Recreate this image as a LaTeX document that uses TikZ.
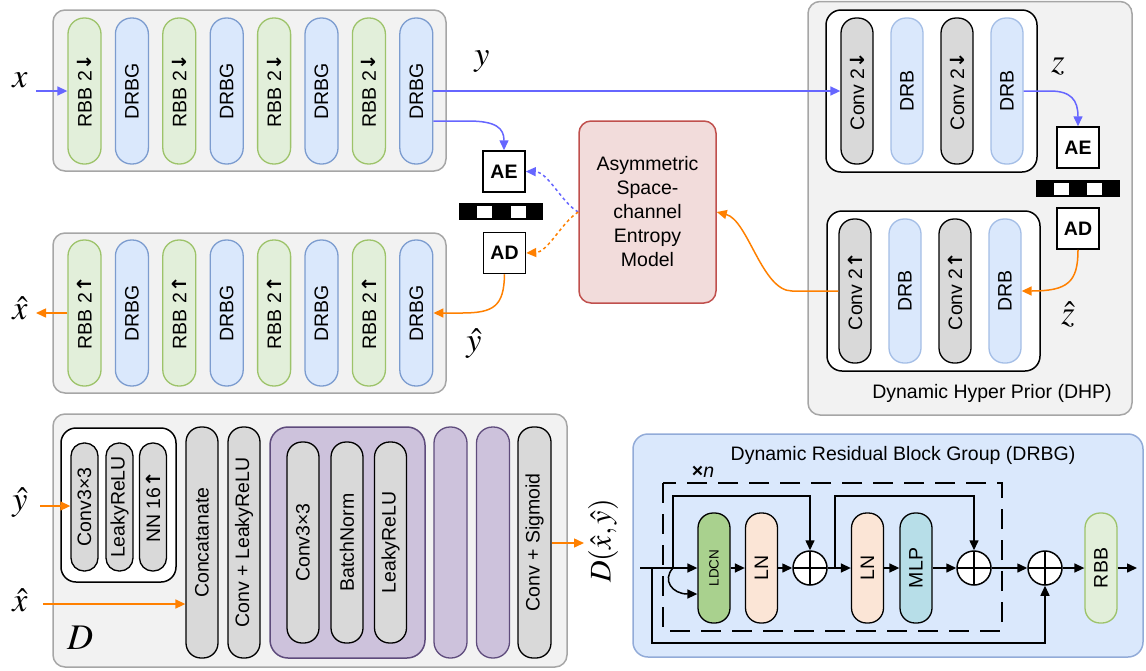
\documentclass[tikz,border=0pt]{standalone}
\usepackage{mathptmx}
\usepackage[no-math]{fontspec}
\setmainfont{Liberation Sans}
\newfontfamily\arrfont{DejaVu Sans}
\usetikzlibrary{arrows.meta,calc}
\definecolor{panelF}{HTML}{F2F2F2}
\definecolor{panelB}{HTML}{A6A6A6}
\definecolor{gF}{HTML}{E2EFDA}
\definecolor{gB}{HTML}{9DC36A}
\definecolor{bF}{HTML}{DAE8FC}
\definecolor{bB}{HTML}{7C9CCF}
\definecolor{bB2}{HTML}{A4BEE6}
\definecolor{grF}{HTML}{D9D9D9}
\definecolor{puF}{HTML}{CDC2DC}
\definecolor{puB}{HTML}{5E4B7C}
\definecolor{entF}{HTML}{F2DCDB}
\definecolor{entB}{HTML}{C0504D}
\definecolor{drF}{HTML}{DAE8FC}
\definecolor{drB}{HTML}{92ABD8}
\definecolor{ldF}{HTML}{A9D18E}
\definecolor{lnF}{HTML}{FBE5D6}
\definecolor{mlF}{HTML}{B7DEE8}
\definecolor{arB}{HTML}{6666FF}
\definecolor{arO}{HTML}{FF8000}
\newcommand{\dnar}{{\arrfont\bfseries ↓}}
\newcommand{\upar}{{\arrfont\bfseries ↑}}
\begin{document}
\begin{tikzpicture}[x=1pt,y=-1pt,
  font=\fontsize{19.5pt}{24pt}\selectfont,
  panel/.style={draw=panelB, fill=panelF, line width=1.5pt, rounded corners=12pt},
  subbox/.style={draw=black, fill=white, line width=1.5pt, rounded corners=15pt},
  pl/.style={rectangle, rotate=90, inner sep=0pt, line width=1.3pt},
  gp/.style={pl, fill=gF, draw=gB, minimum width=146pt, minimum height=33pt, rounded corners=16pt},
  bp/.style={pl, fill=bF, draw=bB, minimum width=146pt, minimum height=33pt, rounded corners=16pt},
  cp/.style={pl, fill=grF, draw=black, rounded corners=15pt},
  dp/.style={pl, fill=bF, draw=bB2, rounded corners=15pt},
  pp/.style={pl, fill=puF, draw=puB, rounded corners=16pt},
  codec/.style={draw=black, fill=white, line width=1.5pt, minimum width=42pt, minimum height=41pt, inner sep=0pt, font=\fontsize{19.5pt}{24pt}\selectfont\bfseries},
  mlab/.style={font=\fontsize{34pt}{34pt}\selectfont},
  aB/.style={draw=arB, line width=1.5pt, -{Triangle[length=10pt,width=9pt]}},
  aO/.style={draw=arO, line width=1.5pt, -{Triangle[length=10pt,width=9pt]}},
  aK/.style={draw=black, line width=1.5pt, -{Triangle[length=10pt,width=9pt]}},
  dotB/.style={aB, dash pattern=on 3pt off 3pt},
  dotO/.style={aO, dash pattern=on 3pt off 3pt},
  plus/.style={circle, draw=black, fill=white, line width=1.5pt, minimum size=34pt, inner sep=0pt,
    path picture={\draw[line width=1.5pt] (path picture bounding box.north) -- (path picture bounding box.south)
      (path picture bounding box.west) -- (path picture bounding box.east);}},
  blk/.style={pl, draw=black, minimum width=110pt, minimum height=32pt, rounded corners=15pt}
]
\useasboundingbox (0,0) rectangle (1146,670);

% ---------------- encoder ----------------
\draw[panel] (53,10) rectangle (446,171);
\node[gp] (e1) at (84.5,91) {RBB 2\dnar};
\node[bp] (e2) at (131.9,91) {DRBG};
\node[gp] (e3) at (179.3,91) {RBB 2\dnar};
\node[bp] (e4) at (226.7,91) {DRBG};
\node[gp] (e5) at (274.1,91) {RBB 2\dnar};
\node[bp] (e6) at (321.5,91) {DRBG};
\node[gp] (e7) at (368.9,91) {RBB 2\dnar};
\node[bp] (e8) at (416.3,91) {DRBG};
\node[mlab] (xin) at (20,80) {$x$};
\coordinate (xs) at (36,91);
\draw[aB] (xs) -- (e1.north);

% ---------------- decoder ----------------
\draw[panel] (53,233) rectangle (446,393);
\node[gp] (d1) at (84.5,313) {RBB 2\upar};
\node[bp] (d2) at (131.9,313) {DRBG};
\node[gp] (d3) at (179.3,313) {RBB 2\upar};
\node[bp] (d4) at (226.7,313) {DRBG};
\node[gp] (d5) at (274.1,313) {RBB 2\upar};
\node[bp] (d6) at (321.5,313) {DRBG};
\node[gp] (d7) at (368.9,313) {RBB 2\upar};
\node[bp] (d8) at (416.3,313) {DRBG};
\node[mlab] (xhat) at (20,308) {$\hat{x}$};
\coordinate (xo) at (36,313);
\draw[aO] (d1.north) -- (xo);

% ---------------- coders & entropy ----------------
\node[codec] (ae1) at (504,171.5) {AE};
\node[codec] (ad1) at (504.5,253) {AD};
\fill[black] (459,203) rectangle (543,220);
\fill[white] (477,205.5) rectangle (492,218);
\fill[white] (511,205.5) rectangle (526,218);
\node[draw=entB, fill=entF, line width=1.5pt, rounded corners=12pt, minimum width=137pt,
      minimum height=182pt, align=center, inner sep=0pt] (ent) at (647.5,212)
      {Asymmetric\\Space-\\channel\\Entropy\\Model};
\node[mlab] (ylab) at (482,62) {$y$};
\node[mlab] (yhlab) at (474,344) {$\hat{y}$};

% ---------------- DHP ----------------
\draw[panel] (808,1.5) rectangle (1132,415);
\draw[subbox] (826,10) rectangle (1037,172);
\node[cp, minimum width=146pt, minimum height=32pt] (h1) at (857,91) {Conv 2\dnar};
\node[dp, minimum width=146pt, minimum height=32pt] (h2) at (907,91) {DRB};
\node[cp, minimum width=146pt, minimum height=32pt] (h3) at (957,91) {Conv 2\dnar};
\node[dp, minimum width=146pt, minimum height=32pt] (h4) at (1007,91) {DRB};
\draw[subbox] (827,211) rectangle (1040,371);
\node[cp, minimum width=144pt, minimum height=32pt] (g1) at (855,291) {Conv 2\upar};
\node[dp, minimum width=144pt, minimum height=32pt] (g2) at (905,291) {DRB};
\node[cp, minimum width=144pt, minimum height=32pt] (g3) at (955,291) {Conv 2\upar};
\node[dp, minimum width=144pt, minimum height=32pt] (g4) at (1005,291) {DRB};
\node[codec] (ae2) at (1078,147.5) {AE};
\node[codec] (ad2) at (1078,228.5) {AD};
\fill[black] (1036,180) rectangle (1120,197);
\fill[white] (1054,182.5) rectangle (1069,195);
\fill[white] (1087,182.5) rectangle (1102,195);
\node[mlab] (zlab) at (1058,66) {$z$};
\node[mlab] (zhlab) at (1068,314) {$\hat{z}$};
\node (dhp) at (992,393) {Dynamic Hyper Prior (DHP)};

% ---------------- main connectors ----------------
\draw[aB] (e8.south) -- (h1.north);
\draw[aB] (e8.south |- 0,121) -- (468,121) .. controls (496,121) and (504,128) .. (ae1.north);
\draw[dotB] (ent.west) .. controls (562,203) and (548,172) .. (ae1.east);
\draw[dotO] (ent.west) .. controls (562,222) and (548,252) .. (ad1.east);
\draw[aO] (ad1.south) .. controls (504,306) and (494,313) .. (462,313) -- (d8.south);
\draw[aB] (h4.south) -- (1050,91) .. controls (1071,91) and (1078,100) .. (ae2.north);
\draw[aO] (ad2.south) .. controls (1078,282) and (1068,291) .. (g4.south);
\draw[aO] (g1.north) -- (792,291) .. controls (762,291) and (748,220) .. (ent.east);

% ---------------- discriminator D ----------------
\draw[panel] (53,414) rectangle (567,667);
\draw[subbox] (61,428) rectangle (176,582);
\node[cp, minimum width=128pt, minimum height=27pt, rounded corners=13pt] (q1) at (84.5,507) {Conv3×3};
\node[cp, minimum width=128pt, minimum height=27pt, rounded corners=13pt] (q2) at (119.5,507) {LeakyReLU};
\node[cp, minimum width=128pt, minimum height=27pt, rounded corners=13pt] (q3) at (153,507) {NN 16\upar};
\node[cp, minimum width=231pt, minimum height=32pt] (cat) at (202,542.5) {Concatanate};
\node[cp, minimum width=231pt, minimum height=32pt] (cl) at (244,542.5) {Conv + LeakyReLU};
\draw[draw=puB, fill=puF, line width=1.5pt, rounded corners=18pt] (270,427) rectangle (425,658);
\node[cp, minimum width=201pt, minimum height=32pt] (r1) at (303,542.5) {Conv3×3};
\node[cp, minimum width=201pt, minimum height=32pt] (r2) at (347,542.5) {BatchNorm};
\node[cp, minimum width=201pt, minimum height=32pt] (r3) at (390.5,542.5) {LeakyReLU};
\node[pp, minimum width=231pt, minimum height=33pt] (pu1) at (450.5,542.5) {};
\node[pp, minimum width=231pt, minimum height=33pt] (pu2) at (493,542.5) {};
\node[cp, minimum width=231pt, minimum height=33pt] (sig) at (534.5,542.5) {Conv + Sigmoid};
\node[mlab] (ydin) at (20,503) {$\hat{y}$};
\node[mlab] (xdin) at (20,600) {$\hat{x}$};
\coordinate (ys) at (40,506);
\coordinate (xs2) at (43,604);
\draw[aO] (ys) -- (q1.north |- ys);
\draw[aO] (xs2) -- (cat.north |- xs2);
\coordinate (dout) at (584,543);
\draw[aO] (sig.south |- dout) -- (dout);
\node[rotate=90, font=\fontsize{30pt}{30pt}\selectfont] (dlab) at (603,541) {$D(\hat{x},\hat{y})$};
\node[font=\fontsize{36pt}{36pt}\selectfont] (dname) at (80,638) {$D$};

% ---------------- DRBG ----------------
\draw[draw=drB, fill=drF, line width=1.5pt, rounded corners=15pt] (633,434) rectangle (1143,657);
\node (drt) at (903,455) {Dynamic Residual Block Group (DRBG)};
\node (xn) at (703,472) {\textbf{×}\textit{n}};
\draw[line width=1.8pt, dash pattern=on 20pt off 11pt] (663,483) rectangle (1002,631);
\node[blk, fill=ldF, font=\fontsize{13.5pt}{14pt}\selectfont] (ldcn) at (714,568) {LDCN};
\node[blk, fill=lnF] (ln1) at (761.5,568) {LN};
\node[plus] (p1) at (810,568) {};
\node[blk, fill=lnF] (ln2) at (867.5,568) {LN};
\node[blk, fill=mlF] (mlp) at (916,568) {MLP};
\node[plus] (p2) at (974,568) {};
\node[plus] (p3) at (1045,568) {};
\node[pl, fill=gF, draw=gB, minimum width=110pt, minimum height=32pt, rounded corners=15pt] (rbb) at (1101,568) {RBB};
\coordinate (st) at (640,568);
\coordinate (b0) at (652,568);
\coordinate (b1) at (652,643);
\coordinate (s0) at (673,568);
\coordinate (s0t) at (673,496);
\coordinate (s2) at (835,568);
\coordinate (s2t) at (835,496);
\coordinate (outp) at (1137,568);
\draw[aK] (st) -- (ldcn.north);
\draw[aK] (ldcn.south) -- (ln1.north);
\draw[aK] (ln1.south) -- (p1.west);
\draw[aK] (p1.east) -- (ln2.north);
\draw[aK] (ln2.south) -- (mlp.north);
\draw[aK] (mlp.south) -- (p2.west);
\draw[aK] (p2.east) -- (p3.west);
\draw[aK] (p3.east) -- (rbb.north);
\draw[aK] (rbb.south) -- (outp);
\draw[aK] (b0) -- (b1) -| (p3.south);
\draw[aK] (s0) -- (s0t) -| (p1.north);
\draw[aK] (s2) -- (s2t) -| (p2.north);
\draw[aK] (s0) .. controls (662,580) and (672,594) .. (ldcn.north |- 0,594);
\end{tikzpicture}
\end{document}
